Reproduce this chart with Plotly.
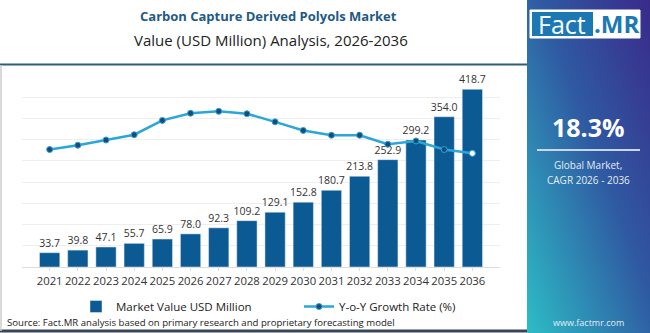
import plotly.graph_objects as go

# Market data
years = ["2021", "2022", "2023", "2024", "2025", "2026", "2027", "2028",
         "2029", "2030", "2031", "2032", "2033", "2034", "2035", "2036"]
market_value = [33.7, 39.8, 47.1, 55.7, 65.9, 78.0, 92.3, 109.2,
                129.1, 152.8, 180.7, 213.8, 252.9, 299.2, 354.0, 418.7]
yoy_growth = [18.46, 18.55, 18.66, 18.77, 19.07, 19.22, 19.26, 19.21,
              19.04, 18.86, 18.76, 18.76, 18.57, 18.64, 18.46, 18.38]
cagr_text = "18.3%"

BAR = "#0b5a94"
LINE = "#2aa6d9"
FONT = "Open Sans"

fig = go.Figure()
fig.add_trace(go.Bar(
    x=years, y=market_value, name="Market Value USD Million",
    marker_color=BAR, width=0.72,
    text=[f"{v:.1f}" for v in market_value], textposition="outside",
    constraintext="none",
    textfont=dict(size=10.5, color="#333333", family=FONT),
    cliponaxis=False,
))
marker_fill = ["#1a4a78"] * (len(years) - 1) + ["#ffffff"]
fig.add_trace(go.Scatter(
    x=years, y=yoy_growth, name="Y-o-Y Growth Rate (%)", yaxis="y2",
    mode="lines+markers",
    line=dict(color=LINE, width=2.5),
    marker=dict(size=6, color=marker_fill, line=dict(color=LINE, width=1)),
))

# Gradient panel on the right
grad_svg = (
    "data:image/svg+xml;utf8,<svg xmlns='http://www.w3.org/2000/svg' width='130' height='333'>"
    "<defs><linearGradient id='g' x1='1' y1='0' x2='0' y2='1'>"
    "<stop offset='0' stop-color='%233a2a8a'/><stop offset='0.45' stop-color='%232f5aa2'/>"
    "<stop offset='1' stop-color='%232dbdc6'/></linearGradient></defs>"
    "<rect width='130' height='333' fill='url(%23g)'/></svg>"
)

px_w, px_h = 478, 191


def px(x, y):
    return (x - 22) / px_w, (267 - y) / px_h


gx, gy = px(527, 0)
lgx, lgy = px(76, 306.5)

fig.update_layout(
    width=650, height=333,
    margin=dict(l=22, r=150, t=76, b=66),
    paper_bgcolor="white", plot_bgcolor="white",
    font=dict(family=FONT, color="#333333"),
    bargap=0.28,
    showlegend=True,
    legend=dict(orientation="h", x=lgx, y=lgy, xref="paper", yref="paper",
                xanchor="left", yanchor="middle",
                font=dict(size=11.5, color="#222222", family=FONT),
                itemwidth=30, traceorder="normal",
                entrywidthmode="pixels", entrywidth=178,
                bgcolor="rgba(0,0,0,0)", tracegroupgap=0),
    xaxis=dict(type="category", showgrid=False, showline=True, linecolor="#dddddd",
               ticks="outside", tickcolor="#dddddd", ticklen=3, tickangle=0,
               tickfont=dict(size=11.3, color="#333333", family=FONT)),
    yaxis=dict(range=[0, 450], dtick=50, showgrid=True, gridcolor="#eeeeee",
               showticklabels=False, zeroline=False),
    yaxis2=dict(range=[16, 20], overlaying="y", visible=False),
    images=[dict(source=grad_svg, xref="paper", yref="paper", x=gx, y=gy,
                 sizex=123 / px_w, sizey=333 / px_h, sizing="stretch",
                 xanchor="left", yanchor="top", layer="below")],
)

shapes = []
# header rule and footer rule
x0, y0 = px(0, 64.5)
x1, _ = px(527, 64.5)
shapes.append(dict(type="line", xref="paper", yref="paper", x0=x0, x1=x1, y0=y0, y1=y0,
                   line=dict(color="#2d5f7a", width=2)))
x0, y0 = px(0, 331)
shapes.append(dict(type="line", xref="paper", yref="paper", x0=x0, x1=x1, y0=y0, y1=y0,
                   line=dict(color="#3a4656", width=3)))
# left frame edge
xa, ya = px(1, 65)
_, yb = px(1, 331)
shapes.append(dict(type="line", xref="paper", yref="paper", x0=xa, x1=xa, y0=ya, y1=yb,
                   line=dict(color="#cccccc", width=1.5)))
# logo boxes
lx0, ly0 = px(530, 38)
lx1, ly1 = px(640, 10)
shapes.append(dict(type="rect", xref="paper", yref="paper", x0=lx0, x1=lx1, y0=ly0, y1=ly1,
                   fillcolor="white", line=dict(color="white", width=1)))
bx0, by0 = px(532, 36)
bx1, by1 = px(593, 12)
shapes.append(dict(type="rect", xref="paper", yref="paper", x0=bx0, x1=bx1, y0=by0, y1=by1,
                   fillcolor="#1b78b3", line=dict(width=0)))
# divider in the CAGR panel
dx0, dy = px(537, 150)
dx1, _ = px(640, 150)
shapes.append(dict(type="line", xref="paper", yref="paper", x0=dx0, x1=dx1, y0=dy, y1=dy,
                   line=dict(color="#c8d6ee", width=2)))
fig.update_layout(shapes=shapes)


def note(x, y, text, size, color, bold=False, anchor="center"):
    ax, ay = px(x, y)
    fig.add_annotation(xref="paper", yref="paper", x=ax, y=ay, text=f"<b>{text}</b>" if bold else text,
                       showarrow=False, xanchor=anchor, yanchor="middle",
                       font=dict(size=size, color=color, family=FONT))


note(268, 16, "Carbon Capture Derived Polyols Market", 13, "#1e5a87", bold=True)
note(271, 40, "Value (USD Million) Analysis, 2026-2036", 15, "#222222")
note(562, 24, "Fact", 25, "white")
note(616, 24, ".MR", 24, "#1b78b3", bold=True)
note(588, 127, cagr_text, 25, "white", bold=True)
note(588, 165, "Global Market,", 10, "#e4ecf6")
note(588, 180, "CAGR 2026 - 2036", 10, "#e4ecf6")
note(588, 322, "www.factmr.com", 9, "#e4ecf6")
note(5, 322.5, "Source: Fact.MR analysis based on primary research and proprietary forecasting model",
     9.6, "#222222", anchor="left")

fig.write_html("out.html")
